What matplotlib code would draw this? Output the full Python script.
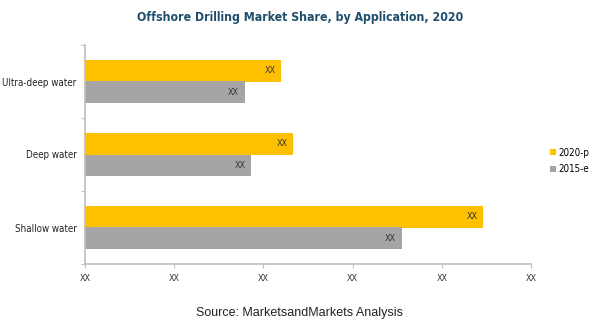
import matplotlib
matplotlib.use("Agg")
import matplotlib.pyplot as plt

categories = ["Shallow water", "Deep water", "Ultra-deep water"]
series_names = ["2020-p", "2015-e"]
values_2020 = [4.46, 2.33, 2.20]
values_2015 = [3.55, 1.86, 1.79]
bar_labels = ["XX", "XX", "XX"]
x_ticks = [0, 1, 2, 3, 4, 5]
x_tick_labels = ["XX"] * 6

COND = dict(family="DejaVu Sans", stretch="condensed")

fig = plt.figure(figsize=(6, 3.25), dpi=100)
ax = fig.add_axes([85/600, 1-264/325, (531-85)/600, (264-45)/325])

ypos = [0.5, 1.5, 2.5]
h = 0.30
yellow = "#FFC000"
gray = "#A5A5A5"
ax.barh([y + 0.15 for y in ypos], values_2020, height=h, color=yellow, label=series_names[0])
ax.barh([y - 0.15 for y in ypos], values_2015, height=h, color=gray, label=series_names[1])

for y, v, t in zip(ypos, values_2020, bar_labels):
    ax.annotate(t, (v, y + 0.15), xytext=(-4, 0), textcoords="offset points",
                ha="right", va="center", fontsize=6.5, color="#333333", **COND)
for y, v, t in zip(ypos, values_2015, bar_labels):
    ax.annotate(t, (v, y - 0.15), xytext=(-4, 0), textcoords="offset points",
                ha="right", va="center", fontsize=6.5, color="#333333", **COND)

ax.set_xlim(0, 5)
ax.set_ylim(0, 3)
ax.set_xticks(x_ticks)
ax.set_xticklabels(x_tick_labels, fontsize=6.5, color="#333333", **COND)
ax.set_yticks([0, 1, 2, 3])
ax.set_yticklabels([])
ax.set_yticks(ypos, minor=True)
ax.set_yticklabels(categories, minor=True, fontsize=7, color="#222222", **COND)
ax.tick_params(axis="y", which="minor", length=0, pad=6)
ax.tick_params(axis="y", which="major", length=3, color="#BFBFBF")
ax.tick_params(axis="x", length=3, color="#BFBFBF", pad=4)
for s in ["top", "right"]:
    ax.spines[s].set_visible(False)
for s in ["left", "bottom"]:
    ax.spines[s].set_color("#BFBFBF")
    ax.spines[s].set_linewidth(1.2)

fig.text(0.5, 1-18/325, "Offshore Drilling Market Share, by Application, 2020",
         ha="center", va="center", fontsize=8.8, fontweight="bold", color="#1F4E6B", **COND)
fig.text(0.5, 1-313/325, "Source: MarketsandMarkets Analysis",
         ha="center", va="center", fontsize=9, family="Liberation Sans", color="#222222")

leg = fig.legend(loc="center left", bbox_to_anchor=(541/600, 1-161/325), frameon=False,
                 handlelength=0.6, handleheight=0.6, handletextpad=0.3,
                 labelspacing=0.7, prop={"family": "DejaVu Sans", "stretch": "condensed", "size": 7})

fig.savefig("out.png", dpi=100)
